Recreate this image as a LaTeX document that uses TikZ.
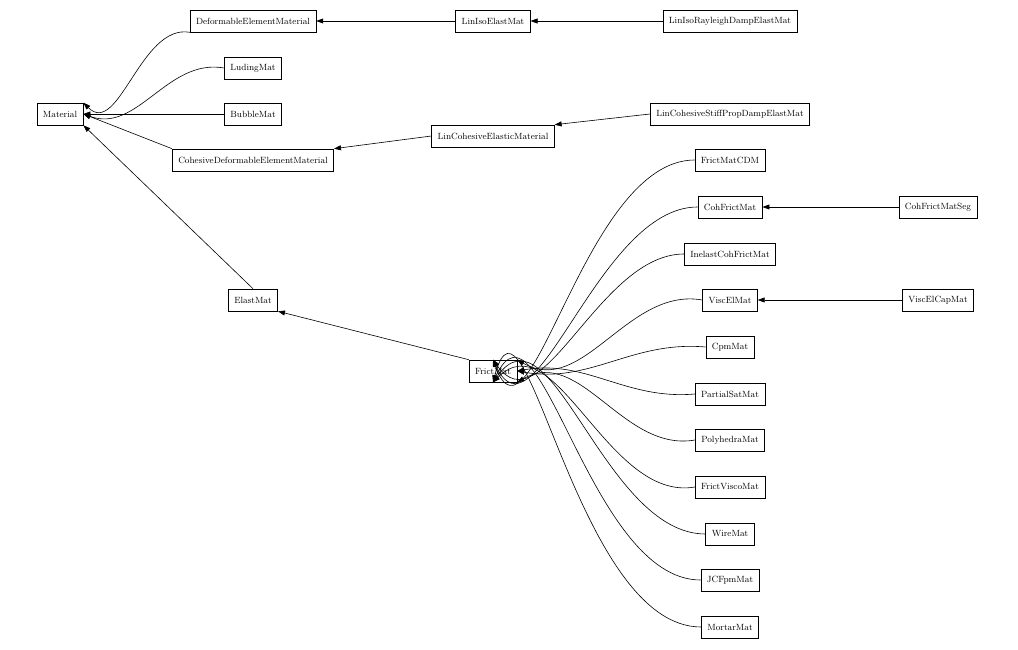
\documentclass[tikz,border=0pt]{standalone}
\usetikzlibrary{arrows.meta}
\tikzset{every picture/.style={line width=0.6pt}}
\tikzset{cls/.style={draw,fill=white,minimum height=22,inner xsep=6pt,font=\fontsize{9}{10}\selectfont},
  inh/.style={-{Triangle[length=7pt,width=5pt]}}}
\begin{document}
\begin{tikzpicture}[x=1pt,y=1pt,yscale=-1]
\useasboundingbox (0,0) rectangle (1018,650);

% Classes
\node[cls] (material) at (60,114) {Material};
\node[cls] (deform) at (253,21) {DeformableElementMaterial};
\node[cls] (liniso) at (493,21) {LinIsoElastMat};
\node[cls] (linisoray) at (730,21) {LinIsoRayleighDampElastMat};
\node[cls] (luding) at (253,68) {LudingMat};
\node[cls] (bubble) at (253,114) {BubbleMat};
\node[cls] (lincohstiff) at (730,114) {LinCohesiveStiffPropDampElastMat};
\node[cls] (lincoh) at (493,136) {LinCohesiveElasticMaterial};
\node[cls] (cohdeform) at (253,160) {CohesiveDeformableElementMaterial};
\node[cls] (elast) at (253,300) {ElastMat};
\node[cls] (frict) at (493,371) {FrictMat};
\node[cls] (frictcdm) at (730,160) {FrictMatCDM};
\node[cls] (cohfrict) at (730,207) {CohFrictMat};
\node[cls] (cohfrictseg) at (938,207) {CohFrictMatSeg};
\node[cls] (inelast) at (730,254) {InelastCohFrictMat};
\node[cls] (viscel) at (730,300) {ViscElMat};
\node[cls] (viscelcap) at (938,300) {ViscElCapMat};
\node[cls] (cpm) at (730,347) {CpmMat};
\node[cls] (partial) at (730,394) {PartialSatMat};
\node[cls] (poly) at (730,440) {PolyhedraMat};
\node[cls] (frictvisco) at (730,487) {FrictViscoMat};
\node[cls] (wire) at (730,534) {WireMat};
\node[cls] (jcfpm) at (730,580) {JCFpmMat};
\node[cls] (mortar) at (730,627) {MortarMat};

% Inheritance
\draw[inh] (deform.south west) to[out=190,in=45] (material.north east);
\draw[inh] (luding.west) to[out=190,in=20] (material.east);
\draw[inh] (bubble) -- (material);
\draw[inh] (cohdeform.north west) -- (material.east);
\draw[inh] (elast.north) -- (material.south east);
\draw[inh] (liniso) -- (deform);
\draw[inh] (linisoray) -- (liniso);
\draw[inh] (lincoh.west) -- (cohdeform.north east);
\draw[inh] (lincohstiff.west) -- (lincoh.north east);
\draw[inh] (frict.north west) -- (elast.south east);
\draw[inh] (cohfrictseg) -- (cohfrict);
\draw[inh] (viscelcap) -- (viscel);
\draw[inh] (frictcdm.west) to[out=180,in=70] (frict.north);
\draw[inh] (cohfrict.west) to[out=180,in=65] (frict.north);
\draw[inh] (inelast.west) to[out=180,in=55] (frict.north);
\draw[inh] (viscel.west) to[out=190,in=30] (frict.north east);
\draw[inh] (cpm.west) to[out=185,in=10] (frict.east);
\draw[inh] (partial.west) to[out=175,in=-10] (frict.east);
\draw[inh] (poly.west) to[out=170,in=-30] (frict.south east);
\draw[inh] (frictvisco.west) to[out=170,in=-45] (frict.south);
\draw[inh] (wire.west) to[out=180,in=-55] (frict.south);
\draw[inh] (jcfpm.west) to[out=180,in=-65] (frict.south);
\draw[inh] (mortar.west) to[out=180,in=-75] (frict.south);
\end{tikzpicture}
\end{document}
